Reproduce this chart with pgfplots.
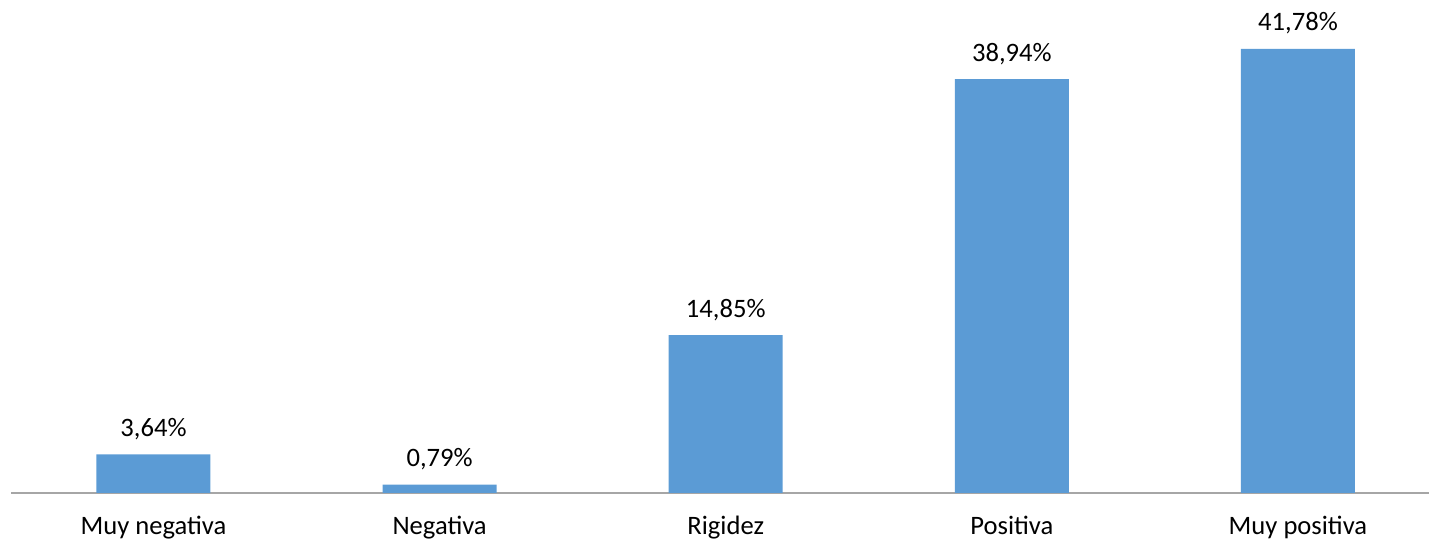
\documentclass[border=0pt]{standalone}
\usepackage{fontspec}
\setmainfont{Carlito}
\usepackage{pgfplots}
\pgfplotsset{compat=1.18}
\definecolor{barblue}{HTML}{5B9BD5}
\definecolor{axisgray}{HTML}{A6A6A6}

\begin{document}
\begin{tikzpicture}
\fontsize{13.3bp}{16bp}\selectfont
\begin{axis}[
    scale only axis,
    width=709bp, height=244.5bp,
    xmin=-0.498, xmax=4.458,
    ymin=0, ymax=46,
    axis x line=bottom,
    axis y line=none,
    x axis line style={-, draw=axisgray, line width=0.8bp},
    xtick=data,
    xticklabels={Muy negativa, Negativa, Rigidez, Positiva, Muy positiva},
    major tick length=0pt,
    xticklabel style={anchor=base, yshift=-20.5bp, font=\fontsize{13.3bp}{16bp}\selectfont},
    ybar, bar width=57bp,
    clip=false,
    nodes near coords={\pgfmathprintnumber{\pgfplotspointmeta}\%},
    every node near coord/.append style={anchor=base, yshift=9bp,
        font=\fontsize{13.3bp}{16bp}\selectfont},
    /pgf/number format/.cd, fixed, fixed zerofill, precision=2, use comma, assume math mode=true,
]
\addplot[fill=barblue, draw=none] coordinates {
    (0, 3.64) (1, 0.79) (2, 14.85) (3, 38.94) (4, 41.78)
};
\coordinate (bl) at (rel axis cs:0,0);
\coordinate (tr) at (rel axis cs:1,1);
\end{axis}
\pgfresetboundingbox
\path[use as bounding box] ([shift={(-5.5bp,-24bp)}]bl) rectangle ([shift={(0bp,2bp)}]tr);
\end{tikzpicture}
\end{document}
